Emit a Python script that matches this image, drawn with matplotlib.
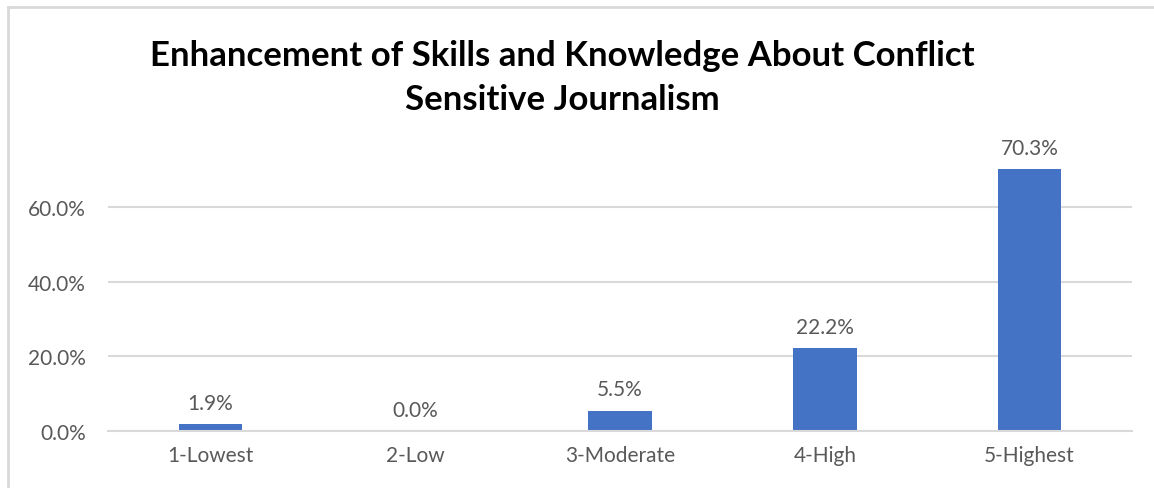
import matplotlib.pyplot as plt
from matplotlib.lines import Line2D

categories = ["1-Lowest", "2-Low", "3-Moderate", "4-High", "5-Highest"]
shares = [1.9, 0.0, 5.5, 22.2, 70.3]
y_ticks = [0, 20, 40, 60]

plt.rcParams['font.family'] = ['Lato', 'DejaVu Sans']

bar_color = '#4472C4'
text_color = '#595959'
grid_color = '#D9D9D9'

fig = plt.figure(figsize=(11.54, 4.89), dpi=100)
ax = fig.add_axes([108 / 1154, 57 / 489, 1024 / 1154, 279.4 / 489])

x = range(len(categories))
bars = ax.bar(x, shares, width=0.31, color=bar_color, zorder=3)
for rect, v in zip(bars, shares):
    ax.annotate(f"{v:.1f}%", (rect.get_x() + rect.get_width() / 2, v),
                xytext=(0, 8), textcoords='offset points',
                ha='center', va='bottom', fontsize=15, color=text_color)

ax.set_xlim(-0.5, len(categories) - 0.5)
ax.set_ylim(0, 75)
ax.set_yticks(y_ticks)
ax.set_yticklabels([f"{t:.1f}%" for t in y_ticks])
ax.set_xticks(list(x))
ax.set_xticklabels(categories)
ax.tick_params(axis='both', length=0, labelsize=15, labelcolor=text_color)
ax.tick_params(axis='y', pad=16)
ax.tick_params(axis='x', pad=10)

ax.grid(axis='y', color=grid_color, linewidth=1.5, zorder=0)
for side in ['top', 'right', 'left']:
    ax.spines[side].set_visible(False)
ax.spines['bottom'].set_color(grid_color)
ax.spines['bottom'].set_linewidth(1.5)
ax.spines['bottom'].set_zorder(4)

fig.text(562 / 1154, 1 - 78 / 489,
         "Enhancement of Skills and Knowledge About Conflict\nSensitive Journalism",
         ha='center', va='center', fontsize=25, fontweight='bold',
         color='black', linespacing=1.45)

# outer chart frame
fig.add_artist(Line2D([8 / 1154, 1.0], [1 - 8 / 489, 1 - 8 / 489],
                      transform=fig.transFigure, color=grid_color, linewidth=2))
fig.add_artist(Line2D([8 / 1154, 8 / 1154], [0, 1 - 8 / 489],
                      transform=fig.transFigure, color=grid_color, linewidth=2))

fig.savefig("out.png", dpi=100)
